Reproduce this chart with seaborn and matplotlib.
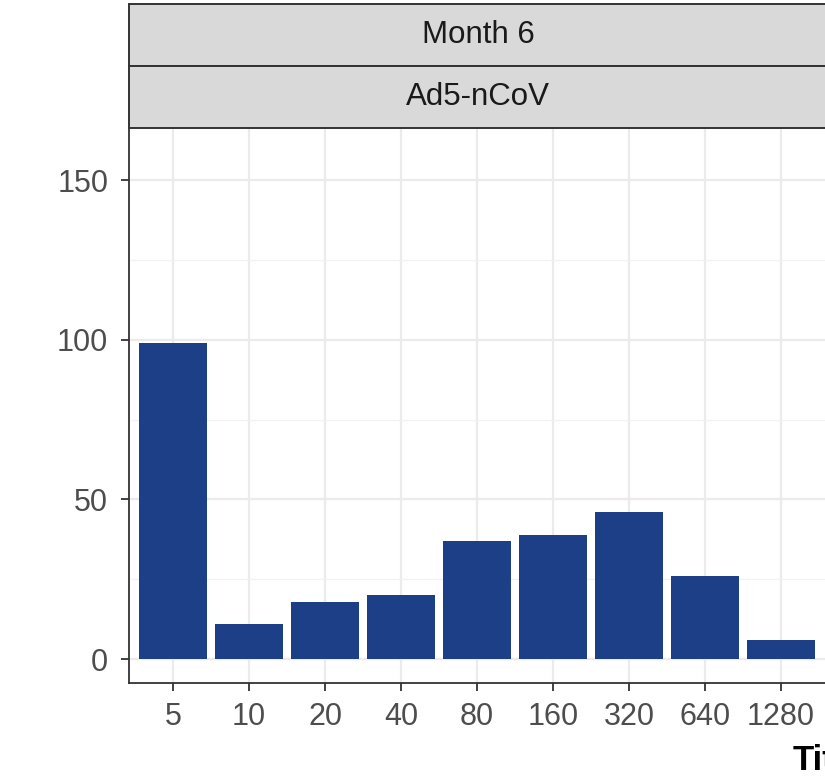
import matplotlib
matplotlib.use("Agg")
import matplotlib.pyplot as plt
import seaborn as sns
import pandas as pd
from matplotlib.patches import Rectangle
from matplotlib.ticker import MultipleLocator

titers = ["5", "10", "20", "40", "80", "160", "320", "640", "1280"]
counts = [99, 11, 18, 20, 37, 39, 46, 26, 6]
strip_top = "Month 6"
strip_bottom = "Ad5-nCoV"
x_title = "Titer"

sns.set_style("white")
plt.rcParams["font.family"] = ["Liberation Sans", "DejaVu Sans"]

df = pd.DataFrame({"titer": titers, "count": counts})

W, H = 825, 779
fig = plt.figure(figsize=(W / 100, H / 100), dpi=100)
ax_left, ax_right, ax_top, ax_bot = 129, 825, 128, 683
ax = fig.add_axes([ax_left / W, 1 - ax_bot / H, (ax_right - ax_left) / W, (ax_bot - ax_top) / H])

sns.barplot(data=df, x="titer", y="count", order=titers, color="#1c3f88",
            width=0.9, saturation=1, linewidth=0, ax=ax, zorder=3)

ax.set_xlim(-0.58, (ax_right - ax_left) / 76 - 0.58)
ax.set_ylim(-7.5, 166.3)
ax.yaxis.set_major_locator(MultipleLocator(50))
ax.yaxis.set_minor_locator(MultipleLocator(25))
ax.grid(True, which="major", color="#ebebeb", linewidth=1.6, zorder=0)
ax.grid(True, which="minor", axis="y", color="#f2f2f2", linewidth=0.9, zorder=0)
ax.set_axisbelow(True)

for s in ["top", "right"]:
    ax.spines[s].set_visible(False)
for s in ["left", "bottom"]:
    ax.spines[s].set_color("#333333")
    ax.spines[s].set_linewidth(1.3)

ax.tick_params(axis="both", which="major", length=6, width=1.3, color="#333333",
               labelsize=22, labelcolor="#4d4d4d")
ax.tick_params(axis="x", pad=8)
ax.tick_params(axis="y", pad=9)
ax.tick_params(axis="y", which="minor", length=0)
ax.tick_params(bottom=True, left=True)
ax.set_xlabel("")
ax.set_ylabel("")


def strip(y0, y1, text):
    r = Rectangle((ax_left / W, 1 - y1 / H), 1.2, (y1 - y0) / H, transform=fig.transFigure,
                  facecolor="#d9d9d9", edgecolor="#333333", linewidth=1.4, clip_on=False)
    fig.add_artist(r)
    fig.text(478 / W, 1 - (y0 + y1) / 2 / H, text,
             ha="center", va="center", fontsize=22.5, color="#1a1a1a")


strip(4, 66, strip_top)
strip(66, 128, strip_bottom)

fig.text(793 / W, 1 - 760 / H, x_title, ha="left", va="center", fontsize=25,
         fontweight="bold", color="black")

fig.savefig("out.png", dpi=100)
